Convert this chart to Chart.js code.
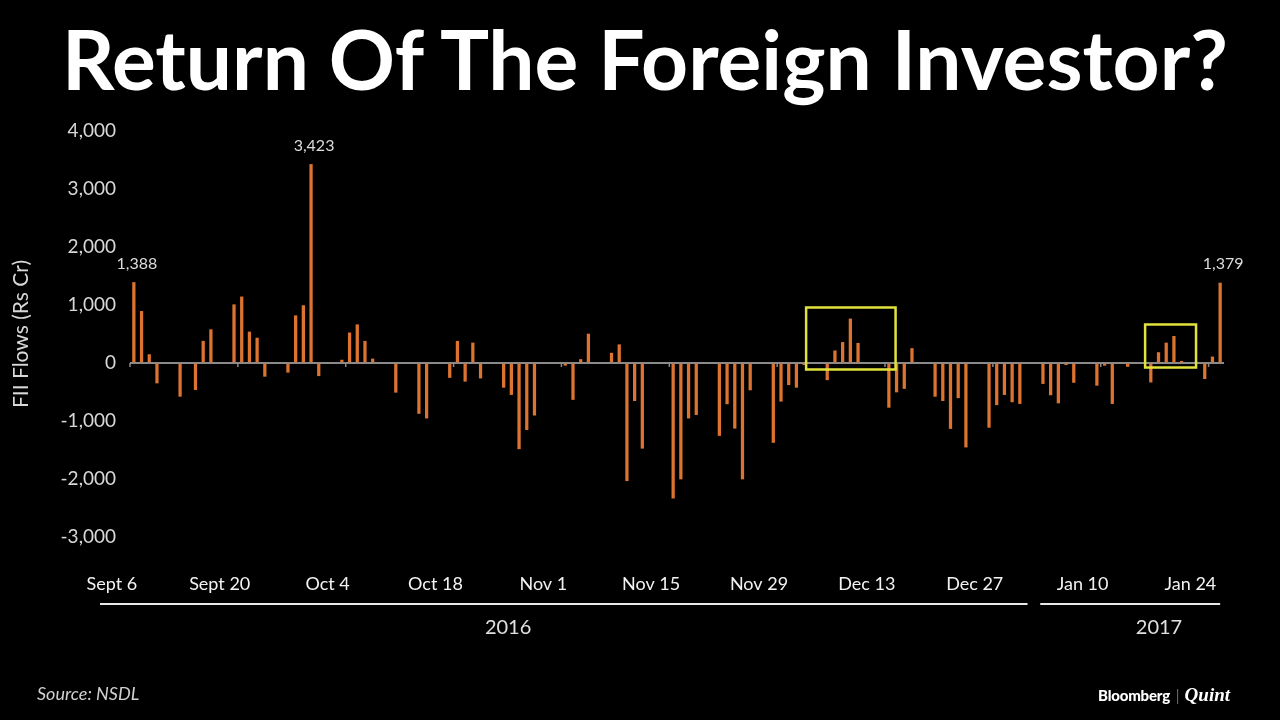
<!DOCTYPE html>
<html>
<head>
<meta charset="utf-8">
<title>Return Of The Foreign Investor?</title>
<script src="https://cdn.jsdelivr.net/npm/chart.js@4.4.1/dist/chart.umd.min.js"></script>
<style>
  html, body { margin: 0; padding: 0; background: #000; }
  #wrap { position: relative; width: 1280px; height: 720px; overflow: hidden; font-family: Lato, "Open Sans", sans-serif; }
  #chart { position: absolute; left: 0; top: 0; }
  h1 { position: absolute; left: 0; top: 17px; width: 1290px; margin: 0; text-align: center;
       color: #fff; font-size: 82px; line-height: 82px; font-weight: 700; }
  .source { position: absolute; left: 37px; top: 684px; color: #d0d0d0; font-size: 18px; line-height: 18px; font-style: italic; }
  .brand { position: absolute; left: 1098px; top: 686px; color: #fff; font-size: 15px; line-height: 18px; white-space: nowrap; }
  .brand b { font-weight: 900; letter-spacing: -0.2px; }
  .brand .bar { color: #bbb; margin: 0 5px 0 6px; font-weight: 300; }
  .brand i { font-family: "Liberation Serif", "DejaVu Serif", serif; font-weight: 700; font-size: 19px; }
</style>
</head>
<body>
<div id="wrap">
  <canvas id="chart" width="1280" height="720"></canvas>
  <h1>Return Of The Foreign Investor?</h1>
  <div class="source">Source: NSDL</div>
  <div class="brand"><b>Bloomberg</b><span class="bar">|</span><i>Quint</i></div>
</div>
<script>
// daily FII flows, Rs crore
const startDay = '2016-09-06';
const endDay = '2017-01-25';

const tradeDays = [
  '2016-09-06', '2016-09-07', '2016-09-08', '2016-09-09', '2016-09-12', '2016-09-14', '2016-09-15', '2016-09-16',
  '2016-09-19', '2016-09-20', '2016-09-21', '2016-09-22', '2016-09-23', '2016-09-26', '2016-09-27', '2016-09-28',
  '2016-09-29', '2016-09-30', '2016-10-03', '2016-10-04', '2016-10-05', '2016-10-06', '2016-10-07', '2016-10-10',
  '2016-10-13', '2016-10-14', '2016-10-17', '2016-10-18', '2016-10-19', '2016-10-20', '2016-10-21', '2016-10-24',
  '2016-10-25', '2016-10-26', '2016-10-27', '2016-10-28', '2016-11-01', '2016-11-02', '2016-11-03', '2016-11-04',
  '2016-11-07', '2016-11-08', '2016-11-09', '2016-11-10', '2016-11-11', '2016-11-15', '2016-11-16', '2016-11-17',
  '2016-11-18', '2016-11-21', '2016-11-22', '2016-11-23', '2016-11-24', '2016-11-25', '2016-11-28', '2016-11-29',
  '2016-11-30', '2016-12-01', '2016-12-02', '2016-12-05', '2016-12-06', '2016-12-07', '2016-12-08', '2016-12-09',
  '2016-12-13', '2016-12-14', '2016-12-15', '2016-12-16', '2016-12-19', '2016-12-20', '2016-12-21', '2016-12-22',
  '2016-12-23', '2016-12-26', '2016-12-27', '2016-12-28', '2016-12-29', '2016-12-30', '2017-01-02', '2017-01-03',
  '2017-01-04', '2017-01-05', '2017-01-06', '2017-01-09', '2017-01-10', '2017-01-11', '2017-01-13', '2017-01-16',
  '2017-01-17', '2017-01-18', '2017-01-19', '2017-01-20', '2017-01-23', '2017-01-24', '2017-01-25'
];

const flows = [
  1388, 890, 145, -345, -575, -460, 375, 575,
  1005, 1140, 535, 430, -230, -160, 815, 990,
  3423, -220, 50, 520, 660, 375, 70, -505,
  -870, -950, -250, 375, -315, 345, -260, -420,
  -545, -1480, -1150, -900, -40, -630, 60, 500,
  170, 315, -2030, -650, -1470, -2330, -2000, -950,
  -890, -1250, -705, -1125, -2000, -465, -1370, -660,
  -375, -420, -30, -290, 210, 355, 760, 340,
  -765, -500, -440, 250, -575, -650, -1130, -600,
  -1450, -1110, -720, -545, -670, -700, -355, -550,
  -690, -30, -335, -385, -40, -700, -60, -330,
  180, 345, 460, 30, -270, 105, 1379
];

const tickDays = ['2016-09-06', '2016-09-20', '2016-10-04', '2016-10-18', '2016-11-01', '2016-11-15',
                  '2016-11-29', '2016-12-13', '2016-12-27', '2017-01-10', '2017-01-24'];
const tickNames = ['Sept 6', 'Sept 20', 'Oct 4', 'Oct 18', 'Nov 1', 'Nov 15',
                   'Nov 29', 'Dec 13', 'Dec 27', 'Jan 10', 'Jan 24'];

const calloutDays = ['2016-09-06', '2016-09-29', '2017-01-25'];
const years = ['2016', '2017'];

// highlighted stretches
const boxFrom = ['2016-12-02', '2017-01-15'];
const boxTo = ['2016-12-14', '2017-01-22'];
const boxHigh = [957, 664];
const boxLow = [-112, -78];

// calendar axis, weekends and holidays stay empty
const days = [];
for (let t = Date.parse(startDay + 'T00:00:00Z'); t <= Date.parse(endDay + 'T00:00:00Z'); t += 86400000) {
  days.push(new Date(t).toISOString().slice(0, 10));
}
const values = days.map(d => {
  const i = tradeDays.indexOf(d);
  return i < 0 ? null : flows[i];
});

const fmt = v => v.toLocaleString('en-US');

const overlay = {
  id: 'overlay',
  afterDatasetsDraw(chart) {
    const { ctx, chartArea } = chart;
    const x = chart.scales.x;
    const y = chart.scales.y;
    const bars = chart.getDatasetMeta(0).data;
    const half = x.width / days.length / 2;
    const zero = y.getPixelForValue(0);
    ctx.save();

    // small ticks on the zero line
    ctx.strokeStyle = '#8a8a8a';
    ctx.lineWidth = 1.5;
    tickDays.forEach(d => {
      const px = x.getPixelForValue(days.indexOf(d)) - half;
      ctx.beginPath();
      ctx.moveTo(px, zero);
      ctx.lineTo(px, zero + 4);
      ctx.stroke();
    });

    // value callouts
    ctx.fillStyle = '#dcdcdc';
    ctx.font = '16px Lato';
    ctx.textAlign = 'center';
    ctx.textBaseline = 'bottom';
    calloutDays.forEach(d => {
      const i = days.indexOf(d);
      const bar = bars[i];
      ctx.fillText(fmt(values[i]), bar.x + 3, bar.y - 11);
    });

    // yellow boxes
    ctx.strokeStyle = '#e2e23c';
    ctx.lineWidth = 2.5;
    boxFrom.forEach((d, k) => {
      const l = x.getPixelForValue(days.indexOf(d)) + 2;
      const r = x.getPixelForValue(days.indexOf(boxTo[k])) - 1;
      const t = y.getPixelForValue(boxHigh[k]);
      const b = y.getPixelForValue(boxLow[k]);
      ctx.strokeRect(l, t, r - l, b - t);
    });

    // year brackets under the date labels
    const lineY = chartArea.bottom + 67;
    const labelAt = [0.44, 0.66];
    years.forEach((yr, k) => {
      const first = days.findIndex(d => d.startsWith(yr));
      let last = first;
      days.forEach((d, i) => { if (d.startsWith(yr)) last = i; });
      const x0 = k === 0 ? chartArea.left - 30 : x.getPixelForValue(first) + 5;
      const x1 = x.getPixelForValue(last);
      ctx.strokeStyle = '#e8e8e8';
      ctx.lineWidth = 2;
      ctx.beginPath();
      ctx.moveTo(x0, lineY);
      ctx.lineTo(x1, lineY);
      ctx.stroke();
      ctx.fillStyle = '#e0e0e0';
      ctx.font = '20px Lato';
      ctx.textBaseline = 'middle';
      ctx.fillText(yr, x0 + (x1 - x0) * labelAt[k], lineY + 24);
    });
    ctx.restore();
  }
};

new Chart(document.getElementById('chart'), {
  type: 'bar',
  data: {
    labels: days,
    datasets: [{
      data: values,
      backgroundColor: '#dd7330',
      barThickness: 2.6
    }]
  },
  options: {
    responsive: false,
    animation: false,
    layout: { padding: { top: 131, right: 56, left: 0, bottom: 0 } },
    plugins: {
      legend: { display: false },
      tooltip: { enabled: false }
    },
    scales: {
      x: {
        grid: { display: false, drawTicks: false },
        border: { display: false },
        ticks: {
          autoSkip: false,
          maxRotation: 0,
          padding: 36,
          labelOffset: -22,
          color: '#f2f2f2',
          font: { family: 'Lato', size: 18 },
          callback: (v, i) => {
            const k = tickDays.indexOf(days[i]);
            return k < 0 ? '' : tickNames[k];
          }
        },
        afterFit: s => { s.height = 183; }
      },
      y: {
        min: -3000,
        max: 4000,
        border: { display: false },
        grid: {
          drawTicks: false,
          color: c => (c.tick && c.tick.value === 0 ? '#8a8a8a' : 'transparent'),
          lineWidth: 2
        },
        ticks: {
          stepSize: 1000,
          padding: 14,
          color: '#d8d8d8',
          font: { family: 'Lato', size: 19 },
          callback: v => fmt(v)
        },
        title: {
          display: true,
          text: 'FII Flows (Rs Cr)',
          color: '#d8d8d8',
          font: { family: 'Lato', size: 21 },
          padding: { top: 9, bottom: 0 }
        },
        afterFit: s => { s.width = 130; }
      }
    }
  },
  plugins: [overlay]
});
</script>
</body>
</html>
